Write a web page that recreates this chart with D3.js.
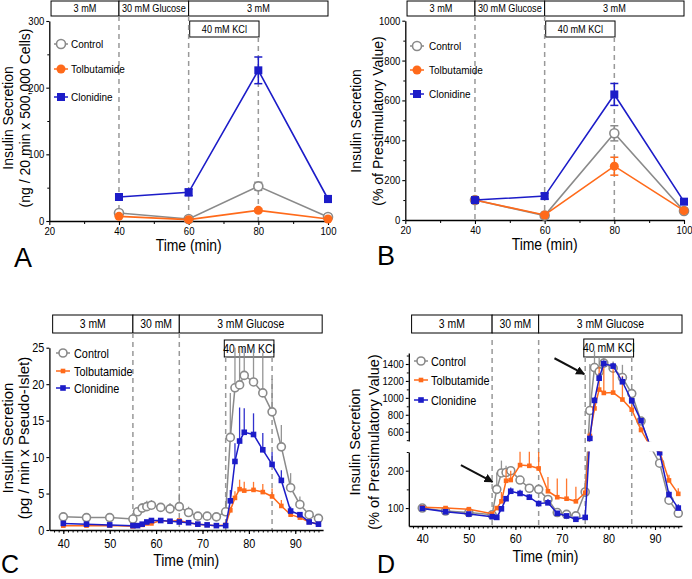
<!DOCTYPE html>
<html><head><meta charset="utf-8">
<script src="https://cdn.jsdelivr.net/npm/d3@7"></script>
<style>body{margin:0;background:#fff} text{font-family:"Liberation Sans",Arial,sans-serif}</style>
</head><body><script>
// ---------------- DATA ----------------
const seriesNames = ["Control", "Tolbutamide", "Clonidine"];
const timesAB = [40, 60, 80, 100];
const A_control = [12, 3, 52, 6],      A_control_err = [2, 1, 6, 1];
const A_tolb    = [7, 2, 16, 3],       A_tolb_err    = [1, 1, 2, 1];
const A_clon    = [36, 43, 226, 33],   A_clon_err    = [3, 5, 20, 5];
const B_control = [100, 22, 435, 45],  B_control_err = [0, 4, 38, 5];
const B_tolb    = [100, 25, 270, 47],  B_tolb_err    = [0, 4, 45, 5];
const B_clon    = [100, 120, 630, 92], B_clon_err    = [0, 15, 55, 10];

const timesCD = [40,45,50,55,56,57,58,59,61,63,65,67,69,71,73,75,76,77,78,79,81,83,85,87,89,91,93,95];
const C_control = [1.8,1.7,1.7,1.5,2.5,3.0,3.2,3.4,3.1,2.9,3.2,2.4,1.9,1.9,1.8,2.5,12.7,19.5,19.9,21.2,20.3,18.8,16.2,11.4,5.8,3.5,2.1,1.6];
const C_control_err = [0.1,0.1,0.1,0.1,0.6,0.7,0.8,0.7,0.6,0.8,1.8,0.8,0.5,0.5,0.5,1.2,6.1,5.5,5.1,3.8,4.7,5.5,4.5,3.0,2.0,1.1,0.5,0.3];
const C_tolb = [0.6,0.6,0.6,0.5,0.6,0.7,0.9,0.9,1.3,1.2,1.3,1.0,0.8,0.7,0.6,0.7,2.7,4.4,5.6,5.4,5.5,5.2,4.6,3.3,2.1,1.7,1.1,0.8];
const C_tolb_err = [0.1,0.1,0.1,0.1,0.1,0.2,0.3,0.3,0.2,0.3,0.2,0.2,0.1,0.1,0.1,0.2,0.5,0.9,1.3,1.2,1.1,1.1,1.1,0.8,0.3,0.2,0.2,0.1];
const C_clon = [0.9,0.8,0.7,0.6,0.6,0.8,1.1,1.3,1.3,1.2,1.1,1.0,0.8,0.7,0.6,0.6,4.0,9.4,12.2,13.4,13.1,11.0,9.0,6.8,2.6,2.1,1.1,0.8];
const C_clon_err = [0.1,0.1,0.1,0.1,0.1,0.1,0.2,0.2,0.2,0.2,0.2,0.2,0.1,0.1,0.1,0.1,1.5,2.5,4.6,3.3,2.9,2.3,1.7,1.4,0.6,0.3,0.2,0.1];

const D_control = [100,92,88,82,150,194,195,200,175,153,150,123,88,83,79,143,850,1358,1310,1410,1350,1240,1050,726,370,220,121,86];
const D_control_err = [0,3,4,3,45,33,18,10,10,8,8,10,5,5,6,30,550,200,180,60,80,150,60,30,0,10,5,5];
const D_tolb = [102,100,97,85,100,118,173,175,215,213,206,145,129,125,118,141,550,875,1098,1058,1062,980,860,620,370,255,174,138];
const D_tolb_err = [0,3,3,3,5,25,30,25,44,46,46,38,50,54,39,10,40,80,270,300,330,280,60,40,0,10,15,15];
const D_clon = [99,90,84,77,75,98,125,145,139,129,112,114,86,79,70,75,520,970,1232,1405,1375,1190,965,730,370,248,136,100];
const D_clon_err = [0,3,3,3,3,5,5,10,10,8,8,10,5,5,5,5,20,40,60,40,40,60,40,30,0,10,10,10];

const boxesAB = [[20.5, 40, "3 mM"], [40, 60, "30 mM Glucose"], [60, 100, "3 mM"]];
const kclAB = [60.3, 80.2, "40 mM KCl"];
const boxesCD = [[37.7, 55, "3 mM"], [55, 65, "30 mM"], [65, 95.8, "3 mM Glucose"]];
const kclCD = [74.7, 85.4, "40 mM KCl"];
const ticksA_y = [0, 100, 200, 300], minorA_y = [50, 150, 250];
const ticksB_y = [0, 200, 400, 600, 800, 1000], minorB_y = [100, 300, 500, 700, 900];
const ticksAB_x = [20, 40, 60, 80, 100], minorAB_x = [30, 50, 70, 90];
const ticksC_y = [0, 5, 10, 15, 20, 25];
const ticksCD_x = [40, 50, 60, 70, 80, 90];
const ticksD_up = [600, 800, 1000, 1200, 1400], minorD_up = [500, 700, 900, 1100, 1300, 1500];
const ticksD_low = [100, 200], minorD_low = [150, 250];
const arrowsD = [[48.3, 215, 55.1, 170], [68.4, 1468, 74.8, 1280]];

// ---------------- SETUP ----------------
const COL = {c: "#8a8a8a", t: "#ff6a1a", b: "#1c1cc8"};
const SX = 0.87;
const svg = d3.select("body").append("svg").attr("width", 692).attr("height", 579);
const defs = svg.append("defs");
defs.append("marker").attr("id", "arr").attr("viewBox", "0 0 10 10").attr("refX", 9).attr("refY", 5)
  .attr("markerWidth", 4.5).attr("markerHeight", 4.5).attr("orient", "auto")
  .append("path").attr("d", "M0,0 L10,5 L0,10 z").attr("fill", "#111");
const fmt = d3.format("d");

function htext(g, x, y, s, size, anchor = "middle") {
  return g.append("text").attr("transform", `translate(${x},${y}) scale(${SX},1)`)
    .attr("text-anchor", anchor).attr("font-size", size).attr("fill", "#000").text(s);
}
function vtext(g, x, y, s, size) {
  return g.append("text").attr("transform", `translate(${x},${y}) rotate(-90)`)
    .attr("text-anchor", "middle").attr("dominant-baseline", "middle")
    .attr("font-size", size).attr("fill", "#000").text(s);
}
function styleAxis(g, fs, side) {
  g.select(".domain").attr("stroke", "#000").attr("stroke-width", 1.3);
  g.selectAll(".tick line").attr("stroke", "#000").attr("stroke-width", 1.1);
  const t = g.selectAll(".tick text").attr("font-size", fs).attr("fill", "#000")
    .attr("font-family", '"Liberation Sans",Arial,sans-serif');
  if (side === "left") t.each(function () { const el = d3.select(this); const x = +el.attr("x"); el.attr("transform", `scale(${SX},1)`).attr("x", x / SX); });
  else t.attr("transform", `scale(${SX},1)`);
}
function minor(g) { g.select(".domain").remove(); g.selectAll(".tick text").remove(); g.selectAll(".tick line").attr("stroke", "#000").attr("stroke-width", 1); }

function drawMarker(g, kind, cx, cy, big) {
  if (kind === "c") {
    g.append("circle").attr("cx", cx).attr("cy", cy).attr("r", big ? 4.5 : 4)
      .attr("fill", "#fff").attr("stroke", COL.c).attr("stroke-width", 1.6);
  } else if (kind === "t") {
    if (big) g.append("circle").attr("cx", cx).attr("cy", cy).attr("r", 4.5).attr("fill", COL.t);
    else g.append("rect").attr("x", cx - 2.3).attr("y", cy - 2.3).attr("width", 4.6).attr("height", 4.6).attr("fill", COL.t);
  } else {
    const s = big ? 8 : 5.6;
    g.append("rect").attr("x", cx - s / 2).attr("y", cy - s / 2).attr("width", s).attr("height", s).attr("fill", COL.b);
  }
}

function legend(g, lx, ys, tx, fs, big) {
  ["c", "t", "b"].forEach((k, i) => {
    g.append("line").attr("x1", lx - 7).attr("x2", lx + 7).attr("y1", ys[i]).attr("y2", ys[i])
      .attr("stroke", COL[k]).attr("stroke-width", 1.5);
    drawMarker(g, k, lx, ys[i], big);
    htext(g, tx, ys[i] + fs * 0.36, seriesNames[i], fs, "start");
  });
}

function boxes(g, x, list, y0, y1, fs, fill = "#fff") {
  list.forEach(b => {
    const x0 = x(b[0]), x1 = x(b[1]);
    g.append("rect").attr("x", x0).attr("y", y0).attr("width", x1 - x0).attr("height", y1 - y0)
      .attr("fill", fill).attr("stroke", "#000").attr("stroke-width", 1);
    htext(g, (x0 + x1) / 2, (y0 + y1) / 2 + fs * 0.36, b[2], fs);
  });
}
function dashed(g, xp, y0, y1) {
  g.append("line").attr("x1", xp).attr("x2", xp).attr("y1", y0).attr("y2", y1)
    .attr("stroke", "#999").attr("stroke-width", 1.5).attr("stroke-dasharray", "5,4");
}

// ---------------- PANELS A/B ----------------
function panelAB(p) {
  const g = svg.append("g");
  const x = d3.scaleLinear().domain([20, 100]).range(p.xr);
  const y = d3.scaleLinear().domain(p.yd).range(p.yr);
  boxes(g, x, boxesAB, p.boxY[0], p.boxY[1], 10.5);
  boxes(g, x, [kclAB], p.kclY[0], p.kclY[1], 10.5);
  dashed(g, x(40), p.boxY[1], p.yr[0]);
  dashed(g, x(60), p.boxY[1], p.yr[0]);
  dashed(g, x(80), p.kclY[1], p.yr[0]);
  const gy = g.append("g").attr("transform", `translate(${p.xr[0]},0)`).call(d3.axisLeft(y).tickValues(p.yt).tickFormat(fmt).tickSize(3).tickPadding(2).tickSizeOuter(0));
  styleAxis(gy, 11, "left");
  g.append("g").attr("transform", `translate(${p.xr[0]},0)`).call(d3.axisLeft(y).tickValues(p.ym).tickSize(2)).call(minor);
  const gx = g.append("g").attr("transform", `translate(0,${p.yr[0]})`).call(d3.axisBottom(x).tickValues(ticksAB_x).tickSize(4).tickPadding(2).tickSizeOuter(0));
  styleAxis(gx, 11, "bottom");
  g.append("g").attr("transform", `translate(0,${p.yr[0]})`).call(d3.axisBottom(x).tickValues(minorAB_x).tickSize(3)).call(minor);
  p.series.forEach(s => {
    const pts = timesAB.map((t, i) => ({t, v: s.v[i], e: s.e[i]}));
    pts.forEach(d => {
      if (d.e > 0) {
        const xx = x(d.t);
        g.append("line").attr("x1", xx).attr("x2", xx).attr("y1", y(d.v - d.e)).attr("y2", y(d.v + d.e)).attr("stroke", COL[s.k]).attr("stroke-width", 1.5);
        [d.v - d.e, d.v + d.e].forEach(vv => g.append("line").attr("x1", xx - 4).attr("x2", xx + 4).attr("y1", y(vv)).attr("y2", y(vv)).attr("stroke", COL[s.k]).attr("stroke-width", 1.5));
      }
    });
    g.append("path").datum(pts).attr("fill", "none").attr("stroke", COL[s.k]).attr("stroke-width", 1.6)
      .attr("d", d3.line().x(d => x(d.t)).y(d => y(d.v)));
    pts.forEach(d => drawMarker(g, s.k, x(d.t), y(d.v), true));
  });
  legend(g, p.leg[0], p.leg[1], p.leg[2], 11.5, true);
  vtext(g, p.yl[0], p.yl[2], "Insulin Secretion", 14);
  vtext(g, p.yl[1], p.yl[2], p.ylabel2, 14);
  htext(g, (p.xr[0] + p.xr[1]) / 2, p.xlY, "Time (min)", 16);
  g.append("text").attr("x", p.letter[0]).attr("y", p.letter[1]).attr("font-size", 27).attr("fill", "#000").text(p.letter[2]);
}

panelAB({xr: [49.3, 328], yd: [0, 300], yr: [221, 21], yt: ticksA_y, ym: minorA_y, boxY: [1, 16], kclY: [21, 37],
  series: [{k: "c", v: A_control, e: A_control_err}, {k: "t", v: A_tolb, e: A_tolb_err}, {k: "b", v: A_clon, e: A_clon_err}],
  leg: [61, [44, 69, 97], 71], yl: [9, 26, 118], ylabel2: "(ng / 20 min x 500,000 Cells)", xlY: 251, letter: [14, 267, "A"]});
panelAB({xr: [405.3, 684], yd: [0, 1000], yr: [220, 20.7], yt: ticksB_y, ym: minorB_y, boxY: [1, 16], kclY: [21, 37],
  series: [{k: "c", v: B_control, e: B_control_err}, {k: "t", v: B_tolb, e: B_tolb_err}, {k: "b", v: B_clon, e: B_clon_err}],
  leg: [417, [46, 70, 94], 429], yl: [357, 379, 121], ylabel2: "(% of Prestimulatory Value)", xlY: 250, letter: [377, 265, "B"]});

// ---------------- PANELS C/D ----------------
function drawSeriesCD(g, x, yf, vals, errs, k) {
  const pts = timesCD.map((t, i) => ({t, v: vals[i], e: errs[i]}));
  pts.forEach(d => { if (d.e > 0) g.append("line").attr("x1", x(d.t)).attr("x2", x(d.t)).attr("y1", yf(d.v)).attr("y2", yf(d.v + d.e)).attr("stroke", COL[k]).attr("stroke-width", 1.3).attr("opacity", 0.9); });
  g.append("path").datum(pts).attr("fill", "none").attr("stroke", COL[k]).attr("stroke-width", 1.5)
    .attr("d", d3.line().x(d => x(d.t)).y(d => yf(d.v)));
  pts.forEach(d => drawMarker(g, k, x(d.t), yf(d.v), false));
}

function panelCD(p) {
  const g = svg.append("g");
  const x = d3.scaleLinear().domain(p.xd).range(p.xr);
  boxes(g, x, boxesCD, 315, 333, 12);
  boxes(g, x, [kclCD], p.kclY[0], p.kclY[1], 12, "none");
  dashed(g, x(55), p.dashTop, p.axisY);
  dashed(g, x(65), p.dashTop, p.axisY);
  dashed(g, x(75), p.kclY[1], p.axisY);
  dashed(g, x(85), p.kclY[1], p.axisY);
  const gx = g.append("g").attr("transform", `translate(0,${p.axisY})`).call(d3.axisBottom(x).tickValues(ticksCD_x).tickSize(4).tickPadding(p.xpad).tickSizeOuter(0));
  styleAxis(gx, 12.5, "bottom");
  g.append("g").attr("transform", `translate(0,${p.axisY})`).call(d3.axisBottom(x).tickValues(d3.range(38, 96, 1)).tickSize(2.5)).call(minor);
  p.yaxes(g);
  p.draw(g, x);
  legend(g, p.leg[0], p.leg[1], p.leg[2], 12.5, false);
  vtext(g, p.yl[0], p.yl[2], "Insulin Secretion", p.yfs);
  vtext(g, p.yl[1], p.yl[2], p.ylabel2, p.yfs);
  htext(g, (p.xr[0] + p.xr[1]) / 2, p.xlY, "Time (min)", 16);
  g.append("text").attr("x", p.letter[0]).attr("y", p.letter[1]).attr("font-size", 25).attr("fill", "#000").text(p.letter[2]);
}

// Panel C
const yC = d3.scaleLinear().domain([0, 25]).range([530, 347.7]);
panelCD({xd: [37, 96], xr: [49.4, 323.1], axisY: 530, xpad: 5, kclY: [340, 357], dashTop: 333, yfs: 15,
  yaxes: g => {
    const a = g.append("g").attr("transform", "translate(49.4,0)").call(d3.axisLeft(yC).tickValues(ticksC_y).tickSize(3).tickPadding(2).tickSizeOuter(0));
    styleAxis(a, 12.5, "left");
  },
  draw: (g, x) => {
    drawSeriesCD(g, x, yC, C_control, C_control_err, "c");
    drawSeriesCD(g, x, yC, C_tolb, C_tolb_err, "t");
    drawSeriesCD(g, x, yC, C_clon, C_clon_err, "b");
  },
  leg: [63, [353, 371, 388], 74], yl: [9, 25, 438], ylabel2: "(pg / min x Pseudo-Islet)", xlY: 566, letter: [1, 573, "C"]});

// Panel D (broken y axis)
const yUp = d3.scaleLinear().domain([490, 1530]).range([441, 353]);
const yLow = d3.scaleLinear().domain([52, 250]).range([526, 452]);
const yD = v => v >= 490 ? yUp(v) : (v <= 250 ? yLow(v) : 452 + (v - 250) / 240 * (441 - 452));
defs.append("clipPath").attr("id", "clipUp").append("rect").attr("x", 400).attr("y", 300).attr("width", 292).attr("height", 141.5);
defs.append("clipPath").attr("id", "clipLow").append("rect").attr("x", 400).attr("y", 451.5).attr("width", 292).attr("height", 100);
panelCD({xd: [37.1, 95.8], xr: [408.8, 682], axisY: 526, xpad: 4, kclY: [339, 357], dashTop: 340, yfs: 14.5,
  yaxes: g => {
    const a = g.append("g").attr("transform", "translate(408.8,0)").call(d3.axisLeft(yUp).tickValues(ticksD_up).tickFormat(fmt).tickSize(3).tickPadding(2).tickSizeOuter(0));
    styleAxis(a, 11, "left");
    g.append("g").attr("transform", "translate(408.8,0)").call(d3.axisLeft(yUp).tickValues(minorD_up).tickSize(2)).call(minor);
    const b = g.append("g").attr("transform", "translate(408.8,0)").call(d3.axisLeft(yLow).tickValues(ticksD_low).tickFormat(fmt).tickSize(3).tickPadding(2).tickSizeOuter(0));
    styleAxis(b, 11, "left");
    g.append("g").attr("transform", "translate(408.8,0)").call(d3.axisLeft(yLow).tickValues(minorD_low).tickSize(2)).call(minor);
  },
  draw: (g, x) => {
    ["clipUp", "clipLow"].forEach(c => {
      const gg = g.append("g").attr("clip-path", `url(#${c})`);
      drawSeriesCD(gg, x, yD, D_control, D_control_err, "c");
      drawSeriesCD(gg, x, yD, D_tolb, D_tolb_err, "t");
      drawSeriesCD(gg, x, yD, D_clon, D_clon_err, "b");
    });
    arrowsD.forEach(a => g.append("line").attr("x1", x(a[0])).attr("y1", yD(a[1])).attr("x2", x(a[2])).attr("y2", yD(a[3]))
      .attr("stroke", "#111").attr("stroke-width", 2).attr("marker-end", "url(#arr)"));
  },
  leg: [421, [361, 380, 400], 431], yl: [356, 375, 442], ylabel2: "(% of Prestimulatory Value)", xlY: 562, letter: [377, 573, "D"]});
</script></body></html>
